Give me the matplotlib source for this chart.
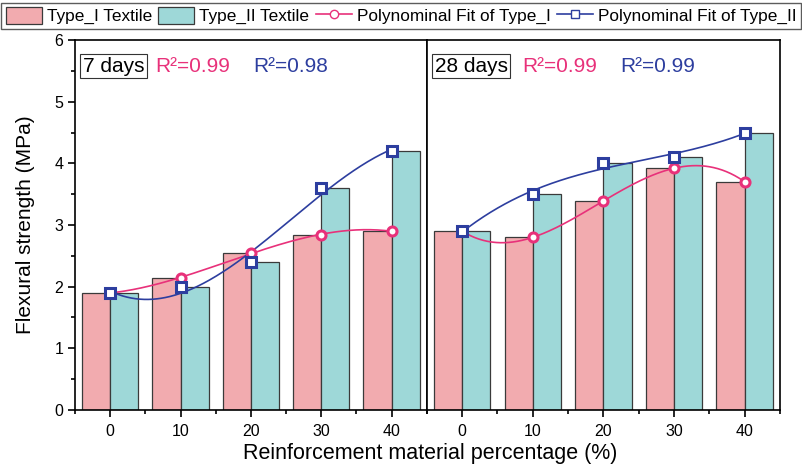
import numpy as np
import matplotlib.pyplot as plt
from matplotlib.patches import Patch
from matplotlib.lines import Line2D

plt.rcParams['font.family'] = ['Liberation Sans', 'DejaVu Sans']

# reinforcement percentage and flexural strength (MPa)
pct = [0, 10, 20, 30, 40]
type1_7d = [1.90, 2.14, 2.55, 2.84, 2.90]
type2_7d = [1.90, 2.00, 2.40, 3.60, 4.20]
type1_28d = [2.90, 2.80, 3.39, 3.92, 3.70]
type2_28d = [2.90, 3.50, 4.00, 4.10, 4.50]
r2_7d = ['R²=0.99', 'R²=0.98']
r2_28d = ['R²=0.99', 'R²=0.99']

pink_bar = '#F2ABAF'
teal_bar = '#9ED8D8'
pink_line = '#E8317A'
blue_line = '#2D3E9F'

fig = plt.figure(figsize=(8.02, 4.68), dpi=100)
ax1 = fig.add_axes([0.0935, 0.124, 0.4387, 0.7905])
ax2 = fig.add_axes([0.5322, 0.124, 0.4404, 0.7905], sharey=ax1)

# fit degree per panel (Type_I, Type_II) and R² label x-positions
panels = [(ax1, type1_7d, type2_7d, '7 days', r2_7d, (3, 3), (0.228, 0.507)),
          (ax2, type1_28d, type2_28d, '28 days', r2_28d, (4, 3), (0.271, 0.548))]

x = np.arange(len(pct))
w = 0.4
for ax, t1, t2, label, r2, degs, rx in panels:
    ax.bar(x - w / 2, t1, w, color=pink_bar, edgecolor='#3a3a3a', linewidth=0.9, zorder=2)
    ax.bar(x + w / 2, t2, w, color=teal_bar, edgecolor='#3a3a3a', linewidth=0.9, zorder=2)

    # polynomial fits through each series
    xs = np.linspace(0, 4, 200)
    for vals, col, mk, deg in [(t1, pink_line, 'o', degs[0]), (t2, blue_line, 's', degs[1])]:
        coef = np.polyfit(x, vals, deg)
        ax.plot(xs, np.polyval(coef, xs), color=col, lw=1.2, zorder=3)
        ax.plot(x, vals, mk, color=col, mfc='white', mec=col, ms=6.5, mew=2.2, zorder=4)

    ax.text(0.022, 0.955, label, transform=ax.transAxes, fontsize=15, va='top', ha='left',
            bbox=dict(boxstyle='square,pad=0.12', fc='white', ec='#333333', lw=0.8))
    ax.text(rx[0], 0.955, r2[0], transform=ax.transAxes, fontsize=15, va='top', color=pink_line)
    ax.text(rx[1], 0.955, r2[1], transform=ax.transAxes, fontsize=15, va='top', color=blue_line)

    ax.set_xlim(-0.5, 4.5)
    ax.set_xticks(x)
    ax.set_xticklabels([str(p) for p in pct], fontsize=11.5)
    ax.set_xticks(np.arange(-0.5, 4.6, 1), minor=True)
    ax.tick_params(axis='x', which='major', direction='out', length=5, width=1.2, pad=5)
    ax.tick_params(axis='x', which='minor', direction='out', length=3, width=1.2)
    for s in ax.spines.values():
        s.set_linewidth(1.2)

ax1.set_ylim(0, 6)
ax1.set_yticks(range(7))
ax1.set_yticks(np.arange(0, 6.01, 0.5), minor=True)
ax1.tick_params(axis='y', which='major', direction='out', length=5, width=1.2, labelsize=11.5)
ax1.tick_params(axis='y', which='minor', direction='out', length=3, width=1.2)
ax2.tick_params(axis='y', which='both', left=False, labelleft=False)
ax1.set_ylabel('Flexural strength (MPa)', fontsize=15, labelpad=14)
fig.text(0.537, 0.02, 'Reinforcement material percentage (%)', ha='center', fontsize=15.5)

handles = [Patch(fc=pink_bar, ec='#3a3a3a', lw=0.9),
           Patch(fc=teal_bar, ec='#3a3a3a', lw=0.9),
           Line2D([], [], color=pink_line, lw=1.2, marker='o', mfc='white', ms=6),
           Line2D([], [], color=blue_line, lw=1.2, marker='s', mfc='white', ms=5.5)]
labels = ['Type_I Textile', 'Type_II Textile', 'Polynominal Fit of Type_I', 'Polynominal Fit of Type_II']
fig.legend(handles, labels, loc='upper center', bbox_to_anchor=(0.5, 0.994), ncol=4,
           fontsize=12.4, frameon=True, fancybox=False, edgecolor='#333333',
           handlelength=2.1, handleheight=1.1, handletextpad=0.3, columnspacing=0.35,
           borderpad=0.25, borderaxespad=0.0)

fig.savefig('out.png', dpi=100)
